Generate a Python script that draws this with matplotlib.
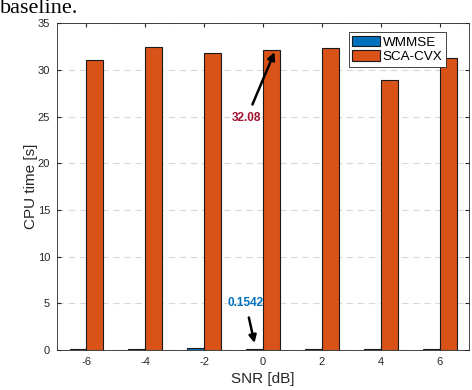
import matplotlib.pyplot as plt
import numpy as np

snr = [-6, -4, -2, 0, 2, 4, 6]
wmmse = [0.15, 0.15, 0.2, 0.1542, 0.15, 0.15, 0.15]
sca_cvx = [31.1, 32.4, 31.8, 32.08, 32.3, 28.9, 31.3]

plt.rcParams['font.family'] = ['Liberation Sans', 'DejaVu Sans']
plt.rcParams['axes.unicode_minus'] = False

fig = plt.figure(figsize=(4.72, 3.9), dpi=100)
ax = fig.add_axes([0.1208, 0.1026, 0.873, 0.838])

x = np.array(snr, dtype=float)
w = 0.575
ax.bar(x - w / 2, wmmse, w, color='#0072BD', edgecolor='#1a1a1a', linewidth=0.8, label='WMMSE', zorder=3)
ax.bar(x + w / 2, sca_cvx, w, color='#D95319', edgecolor='#1a1a1a', linewidth=0.8, label='SCA-CVX', zorder=3)

ax.set_xlim(-7, 7)
ax.set_ylim(0, 35)
ax.set_xticks(snr)
ax.set_yticks(range(0, 36, 5))
ax.grid(axis='y', linestyle=(0, (6, 4)), color='#d9d9d9', linewidth=0.8, zorder=0)
ax.tick_params(direction='in', top=True, right=True, labelsize=8, colors='#262626', length=3, pad=5)
for s in ax.spines.values():
    s.set_color('#262626')
    s.set_linewidth(0.6)
ax.set_xlabel('SNR [dB]', fontsize=11, color='#262626', labelpad=4)
ax.set_ylabel('CPU time [s]', fontsize=11, color='#262626', labelpad=0)

ax.annotate('32.08', xy=(0.39, 31.9), xytext=(-0.56, 24.8), color='#A2142F',
            fontsize=8.5, fontweight='bold', ha='center', va='center',
            arrowprops=dict(arrowstyle='-|>', color='black', lw=1.8, shrinkA=4, shrinkB=0,
                            mutation_scale=11), zorder=5)
ax.annotate('0.1542', xy=(-0.29, 0.75), xytext=(-0.59, 5.0), color='#0072BD',
            fontsize=8.5, fontweight='bold', ha='center', va='center',
            arrowprops=dict(arrowstyle='-|>', color='black', lw=1.8, shrinkA=4, shrinkB=0,
                            mutation_scale=11), zorder=5)

leg = ax.legend(loc='upper right', bbox_to_anchor=(0.944, 0.972), fontsize=9.7, fancybox=False,
                framealpha=1, edgecolor='#262626', borderpad=0.25, handlelength=2.1,
                handleheight=0.85, handletextpad=0.2, labelspacing=0.12, borderaxespad=0)
leg.get_frame().set_linewidth(0.6)

fig.text(0.0, 0.967, 'baseline.', fontsize=16, family=['Liberation Serif'], va='baseline', ha='left')

fig.savefig('out.png', dpi=100)
